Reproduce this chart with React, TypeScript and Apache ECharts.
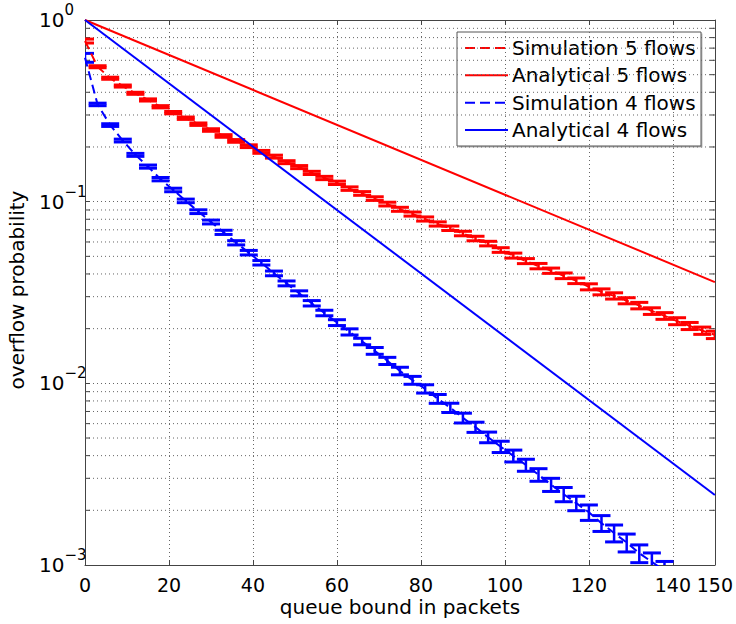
import React, { useEffect, useRef } from "react";
import * as echarts from "echarts";

// x positions of simulation points
const xSim5 = [0,3,6,9,12,15,18,21,24,27,30,33,36,39,42,45,48,51,54,57,60,63,66,69,72,75,78,81,84,87,90,93,96,99,102,105,108,111,114,117,120,123,126,129,132,135,138,141,144,147,150];
const sim5Mean = [0.766,0.553,0.478,0.433,0.395,0.363,0.333,0.309,0.288,0.267,0.248,0.230,0.216,0.202,0.188,0.177,0.165,0.155,0.144,0.135,0.127,0.118,0.111,0.104,0.097,0.0908,0.0855,0.0803,0.0754,0.0714,0.0668,0.0627,0.0588,0.0542,0.0505,0.0471,0.0442,0.0417,0.0391,0.0367,0.0340,0.0319,0.0303,0.0285,0.0268,0.0250,0.0235,0.0220,0.0207,0.0195,0.0185];
const sim5Err = [0.019,0.0070,0.0062,0.0056,0.0051,0.0049,0.0047,0.0045,0.0043,0.0041,0.0040,0.0038,0.0037,0.0035,0.0034,0.0033,0.0031,0.0030,0.0029,0.0028,0.0027,0.0026,0.0026,0.0024,0.0023,0.0023,0.0022,0.0021,0.0020,0.0020,0.0019,0.0018,0.0017,0.0016,0.0016,0.0015,0.0015,0.0014,0.0014,0.0013,0.0013,0.0012,0.0012,0.0011,0.0011,0.00105,0.0010,0.00097,0.00093,0.0009,0.00087];

const xSim4 = [0,3,6,9,12,15,18,21,24,27,30,33,36,39,42,45,48,51,54,57,60,63,66,69,72,75,78,81,84,87,90,93,96,99,102,105,108,111,114,117,120,123,126,129,132,135,138];
const sim4Mean = [0.62,0.343,0.264,0.217,0.181,0.156,0.133,0.116,0.101,0.0881,0.0773,0.0678,0.0594,0.0524,0.0461,0.0403,0.0355,0.0313,0.0276,0.0244,0.0216,0.0192,0.0170,0.0151,0.0133,0.0117,0.0104,0.00933,0.00822,0.00734,0.00645,0.00574,0.00505,0.00448,0.00399,0.00355,0.00314,0.00277,0.00245,0.00219,0.00195,0.00170,0.00150,0.00133,0.00116,0.00104,0.00093];
const sim4Err = [0.035,0.0055,0.0045,0.0039,0.0034,0.0031,0.0028,0.0026,0.0023,0.0021,0.0019,0.0018,0.0016,0.0015,0.0013,0.0012,0.0011,0.0010,0.00094,0.00085,0.0008,0.00075,0.0007,0.00065,0.0006,0.00056,0.00052,0.00049,0.00046,0.00043,0.0004,0.00037,0.00034,0.00032,0.0003,0.00027,0.00025,0.00023,0.00022,0.0002,0.00019,0.00017,0.00016,0.00015,0.00013,0.000125,0.000116];

// analytical curves (straight on log scale): endpoints
const anaX = [0, 150];
const ana5 = [1, 0.0361];
const ana4 = [1, 0.00243];

// minor log grid values
const minorVals = [0.002,0.003,0.004,0.005,0.006,0.007,0.008,0.009,0.02,0.03,0.04,0.05,0.06,0.07,0.08,0.09,0.2,0.3,0.4,0.5,0.6,0.7,0.8,0.9];

const legendNames = ["Simulation 5 flows", "Analytical 5 flows", "Simulation 4 flows", "Analytical 4 flows"];
const legendColors = ["#ff0000", "#ff0000", "#0000ff", "#0000ff"];
const legendDashed = [true, false, true, false];

const RED = "#ff0000";
const BLUE = "#0000ff";
const FONT = "DejaVu Sans";
const AXIS = "#444";
const GRIDC = "#666";

function errRender(color: string) {
  return (params: any, api: any) => {
    const x = api.value(0);
    const m = api.value(1);
    const e = api.value(2);
    const top = api.coord([x, m + e]);
    const bot = api.coord([x, m - e]);
    const hw = 9;
    const style = { stroke: color, lineWidth: 3, fill: "none" };
    return {
      type: "group",
      children: [
        { type: "line", shape: { x1: top[0], y1: top[1], x2: bot[0], y2: bot[1] }, style: { stroke: color, lineWidth: 2.5 } },
        { type: "line", shape: { x1: top[0] - hw, y1: top[1], x2: top[0] + hw, y2: top[1] }, style },
        { type: "line", shape: { x1: bot[0] - hw, y1: bot[1], x2: bot[0] + hw, y2: bot[1] }, style },
      ],
    };
  };
}

function minorRender(params: any, api: any) {
  const v = api.value(1);
  const p0 = api.coord([0, v]);
  const p1 = api.coord([150, v]);
  return {
    type: "group",
    children: [
      { type: "line", shape: { x1: p0[0], y1: p0[1], x2: p1[0], y2: p1[1] }, style: { stroke: GRIDC, lineWidth: 1, lineDash: [1, 3] } },
      { type: "line", shape: { x1: p0[0], y1: p0[1], x2: p0[0] + 5, y2: p0[1] }, style: { stroke: AXIS, lineWidth: 1 } },
      { type: "line", shape: { x1: p1[0] - 5, y1: p1[1], x2: p1[0], y2: p1[1] }, style: { stroke: AXIS, lineWidth: 1 } },
    ],
  };
}

function buildLegend() {
  const left = 457, top = 32, w = 244, h = 114;
  const rowY = [48, 75.3, 102.7, 130];
  const children: any[] = [
    { type: "rect", shape: { x: left + 1.5, y: top + 1.5, width: w, height: h }, style: { fill: "#bbb" } },
    { type: "rect", shape: { x: left, y: top, width: w, height: h }, style: { fill: "#fff", stroke: "#555", lineWidth: 1 } },
  ];
  legendNames.forEach((name, i) => {
    children.push({
      type: "line",
      shape: { x1: 465, y1: rowY[i], x2: 508, y2: rowY[i] },
      style: { stroke: legendColors[i], lineWidth: 2, lineDash: legendDashed[i] ? [10, 5] : null },
    });
    children.push({
      type: "text",
      x: 512,
      y: rowY[i],
      style: { text: name, fontSize: 20, fontFamily: FONT, fill: "#000", align: "left", verticalAlign: "middle" },
    });
  });
  return { type: "group", z: 100, children };
}

export default function App() {
  const ref = useRef<HTMLDivElement>(null);
  useEffect(() => {
    document.body.style.margin = "0";
    const chart = echarts.init(ref.current!, null, { renderer: "svg" });
    const axisLine = { show: true, onZero: false, lineStyle: { color: AXIS, width: 1 } };
    const axisTick = { show: true, inside: true, length: 5, lineStyle: { color: AXIS, width: 1 } };
    const option: any = {
      animation: false,
      backgroundColor: "#fff",
      grid: { left: 85, right: 21, top: 20, bottom: 59, containLabel: false },
      xAxis: [
        {
          type: "value", min: 0, max: 150, interval: 20, position: "bottom",
          axisLine, axisTick,
          axisLabel: { color: "#000", fontSize: 19, fontFamily: FONT, margin: 10, showMinLabel: true, showMaxLabel: true },
          splitLine: { show: true, lineStyle: { color: GRIDC, width: 1, type: [1, 3] } },
        },
        {
          type: "value", min: 0, max: 150, interval: 20, position: "top",
          axisLine, axisTick, axisLabel: { show: false }, splitLine: { show: false },
        },
      ],
      yAxis: [
        {
          type: "log", logBase: 10, min: 0.001, max: 1, position: "left",
          axisLine, axisTick,
          minorTick: { show: false },
          axisLabel: {
            align: "left",
            margin: 46,
            showMinLabel: true,
            showMaxLabel: true,
            formatter: (v: number) => {
              const e = Math.round(Math.log10(v));
              return "{b|10}{s|" + (e === 0 ? "0" : "\u2212" + (-e)) + "}";
            },
            rich: {
              b: { fontSize: 20, fontFamily: FONT, color: "#000" },
              s: { fontSize: 15, fontFamily: FONT, color: "#000", padding: [0, 0, 20, 0] },
            },
          },
          splitLine: { show: true, lineStyle: { color: GRIDC, width: 1, type: [1, 3] } },
        },
        {
          type: "log", logBase: 10, min: 0.001, max: 1, position: "right",
          axisLine, axisTick, axisLabel: { show: false }, splitLine: { show: false },
        },
      ],
      graphic: [
        { type: "text", x: 400, y: 607, style: { text: "queue bound in packets", fontSize: 20, fontFamily: FONT, fill: "#000", align: "center", verticalAlign: "middle" } },
        { type: "text", x: 17, y: 290, rotation: Math.PI / 2, style: { text: "overflow probability", fontSize: 20, fontFamily: FONT, fill: "#000", align: "center", verticalAlign: "middle" } },
        buildLegend(),
      ],
      series: [
        {
          type: "custom", name: "minorGrid", renderItem: minorRender, silent: true, z: 1,
          data: minorVals.map((v) => [0, v]), encode: { x: 0, y: 1 },
        },
        {
          type: "custom", name: "err5", renderItem: errRender(RED), clip: true, z: 3, silent: true,
          data: sim5Mean.map((m, i) => [xSim5[i], m, sim5Err[i]]), encode: { x: 0, y: 1 },
        },
        {
          type: "custom", name: "err4", renderItem: errRender(BLUE), clip: true, z: 3, silent: true,
          data: sim4Mean.map((m, i) => [xSim4[i], m, sim4Err[i]]), encode: { x: 0, y: 1 },
        },
        {
          type: "line", name: legendNames[0], symbol: "none", z: 4,
          data: sim5Mean.map((m, i) => [xSim5[i], m]),
          lineStyle: { color: RED, width: 2, type: [9, 5] }, itemStyle: { color: RED },
        },
        {
          type: "line", name: legendNames[1], symbol: "none", z: 4,
          data: ana5.map((v, i) => [anaX[i], v]),
          lineStyle: { color: RED, width: 2 }, itemStyle: { color: RED },
        },
        {
          type: "line", name: legendNames[2], symbol: "none", z: 4,
          data: sim4Mean.map((m, i) => [xSim4[i], m]),
          lineStyle: { color: BLUE, width: 2, type: [9, 5] }, itemStyle: { color: BLUE },
        },
        {
          type: "line", name: legendNames[3], symbol: "none", z: 4,
          data: ana4.map((v, i) => [anaX[i], v]),
          lineStyle: { color: BLUE, width: 2 }, itemStyle: { color: BLUE },
        },
      ],
    };
    chart.setOption(option);
    return () => chart.dispose();
  }, []);
  return <div ref={ref} style={{ width: 736, height: 624 }} />;
}
